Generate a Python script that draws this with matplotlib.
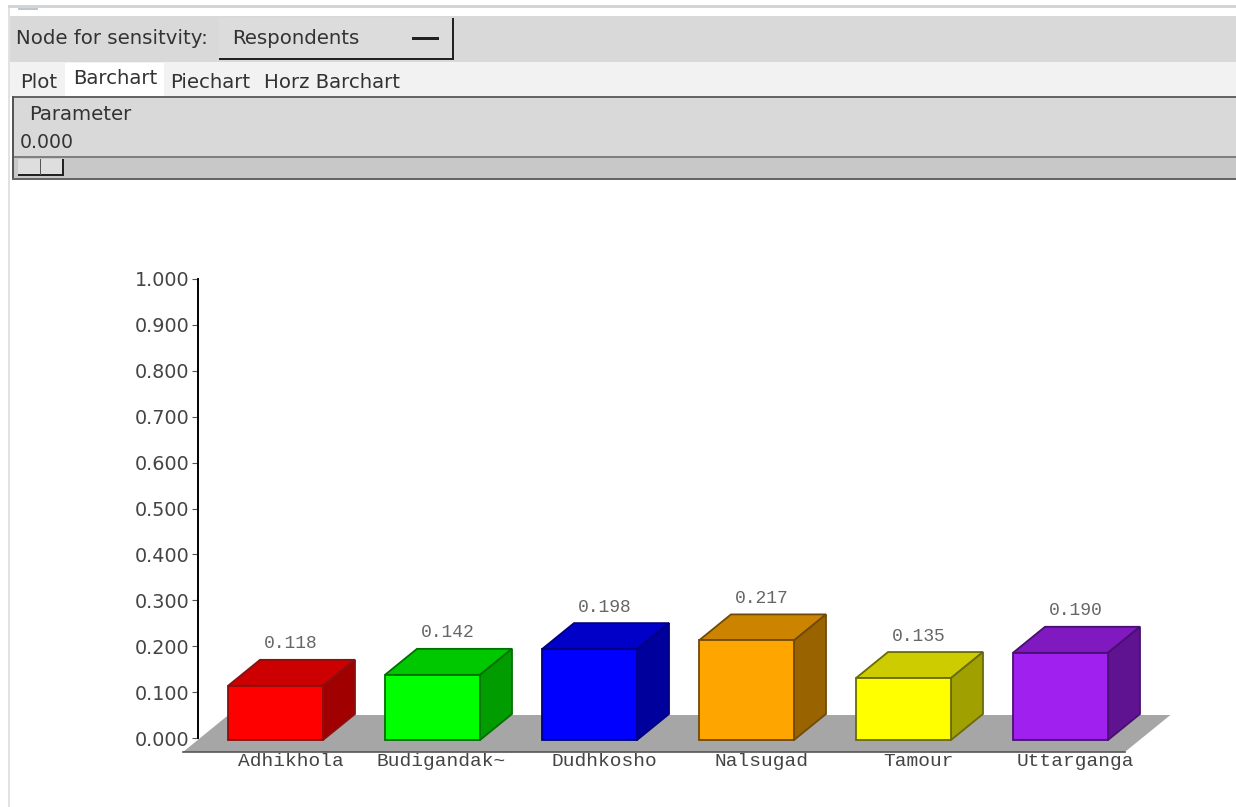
import matplotlib
matplotlib.use('Agg')
import matplotlib.pyplot as plt
from matplotlib.patches import Rectangle

W, H = 1236, 807

rivers = ['Adhikhola', 'Budigandak~', 'Dudhkosho', 'Nalsugad', 'Tamour', 'Uttarganga']
values = [0.118, 0.142, 0.198, 0.217, 0.135, 0.190]
front_cols = ['#ff0000', '#00ff00', '#0000ff', '#ffa500', '#ffff00', '#a020f0']
top_cols = ['#cc0000', '#00c800', '#0000c8', '#cc8400', '#cccc00', '#8019c0']
side_cols = ['#a00000', '#009c00', '#00009c', '#996300', '#a0a000', '#5f1390']
edge_cols = ['#8a1010', '#007000', '#000080', '#704a08', '#6a6a08', '#481070']
y_ticks = [0.0, 0.1, 0.2, 0.3, 0.4, 0.5, 0.6, 0.7, 0.8, 0.9, 1.0]
tabs = ['Plot', 'Barchart', 'Piechart', 'Horz Barchart']

UI_GREY = '#d9d9d9'
UI_TEXT = '#333333'
UI_SIZE = 14.2

fig = plt.figure(figsize=(W / 100, H / 100), dpi=100, facecolor='white')

# window furniture, laid out in image pixels
ui = fig.add_axes([0, 0, 1, 1])
ui.set_xlim(0, W)
ui.set_ylim(H, 0)
ui.axis('off')


def box(x0, y0, x1, y1, color, **kw):
    ui.add_patch(Rectangle((x0, y0), x1 - x0, y1 - y0, facecolor=color, edgecolor='none', **kw))


box(8, 5, W, 8, '#d4d4d4')
box(8, 8, 10, 807, '#e2e2e2')
box(18, 8, 38, 10, '#b9c8d2')
box(10, 16, W, 62, UI_GREY)
box(219, 18, 454, 59, '#dcdcdc')
box(219, 58, 454, 60, '#222222')
box(452, 18, 454, 60, '#222222')
box(412, 37, 439, 40, '#222222')
box(10, 62, W, 97, '#f2f2f2')
box(65, 63, 164, 97, '#ffffff')
box(12, 96, W, 98, '#666666')
box(12, 98, W, 180, UI_GREY)
box(12, 96, 14, 180, '#555555')
box(14, 156, W, 158, '#808080')
box(14, 158, W, 178, '#c8c8c8')
box(12, 178, W, 180, '#666666')
box(18, 159, 63, 175, '#dedede')
box(18, 174, 64, 176, '#222222')
box(62, 159, 64, 176, '#222222')
box(40, 159, 41, 175, '#555555')

ui.text(16, 38, 'Node for sensitvity:', fontsize=UI_SIZE, color=UI_TEXT, va='center')
ui.text(232, 39, 'Respondents', fontsize=UI_SIZE, color=UI_TEXT, va='center')
for tab, tx in zip(tabs, [20, 73, 170, 264]):
    ui.text(tx, 82 if tab != 'Barchart' else 79, tab, fontsize=UI_SIZE, color=UI_TEXT, va='center')
ui.text(29, 115, 'Parameter', fontsize=UI_SIZE, color=UI_TEXT, va='center')
ui.text(20, 142, '0.000', fontsize=13.6, color=UI_TEXT, va='center')

# chart area: y axis runs 0 at pixel 738, 1 at pixel 279; one category is 157 px
PX_X = 157.0
PX_Y = 459.0
ax = fig.add_axes([198 / W, 1 - 738 / H, (W - 198) / W, 459 / H])
ax.patch.set_alpha(0)
ax.set_xlim((198 - 275.5) / PX_X, (W - 275.5) / PX_X)
ax.set_ylim(0, 1)
for s in ['top', 'right', 'bottom']:
    ax.spines[s].set_visible(False)
ax.spines['left'].set_linewidth(1.4)
ax.set_xticks([])
ax.set_yticks(y_ticks)
ax.set_yticklabels(['%.3f' % t for t in y_ticks], fontsize=13.8, color='#444444')
ax.tick_params(axis='y', length=4, width=0.8, pad=2, color='#555555')

bar_w = 95 / PX_X
dx = 32 / PX_X
dy = 26 / PX_Y
base = -2 / PX_Y

# floor
fl_y0 = -14 / PX_Y
fl_y1 = 23 / PX_Y
ax.fill([-0.589, 5.41, 5.70, -0.30], [fl_y0, fl_y0, fl_y1, fl_y1], color='#a6a6a6',
        clip_on=False, zorder=1, linewidth=0)
ax.plot([-0.589, 5.41], [fl_y0, fl_y0], color='#555555', lw=1.2, clip_on=False, zorder=1)

label_shift = [15, 9, 15, 15, 15, 15]

for i, v in enumerate(values):
    left = i - bar_w / 2
    right = i + bar_w / 2
    ax.bar(i, v, width=bar_w, bottom=base, color=front_cols[i], edgecolor=edge_cols[i],
           linewidth=1.3, clip_on=False, zorder=3)
    top = base + v
    ax.fill([left, right, right + dx, left + dx], [top, top, top + dy, top + dy],
            facecolor=top_cols[i], edgecolor=edge_cols[i], linewidth=1.3, clip_on=False, zorder=2)
    ax.fill([right, right + dx, right + dx, right], [base, base + dy, top + dy, top],
            facecolor=side_cols[i], edgecolor=edge_cols[i], linewidth=1.3, clip_on=False, zorder=2)
    ax.annotate('%.3f' % v, (i, top + dy), xytext=(15, 16), textcoords='offset pixels',
                ha='center', va='center', family='Liberation Mono', fontsize=13, color='#666666')
    ax.annotate(rivers[i], (i, base), xytext=(label_shift[i], -22), textcoords='offset pixels',
                ha='center', va='center', family='Liberation Mono', fontsize=14, color='#444444',
                annotation_clip=False)

fig.savefig('out.png', dpi=100)
